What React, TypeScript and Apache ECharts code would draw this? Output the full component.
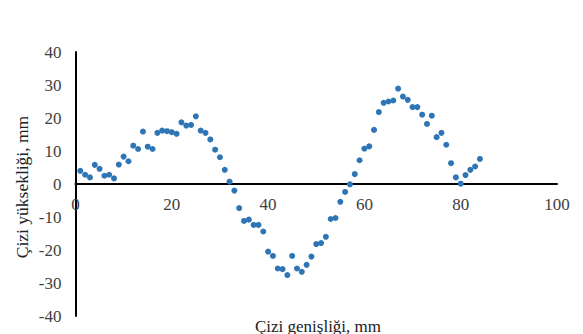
import React, { useEffect, useRef } from "react";
import * as echarts from "echarts";

const xValues: number[] = [
  1, 2, 3, 4, 5, 6, 7, 8, 9, 10, 11, 12, 13, 14, 15, 16, 17, 18, 19, 20,
  21, 22, 23, 24, 25, 26, 27, 28, 29, 30, 31, 32, 33, 34, 35, 36, 37, 38, 39, 40,
  41, 42, 43, 44, 45, 46, 47, 48, 49, 50, 51, 52, 53, 54, 55, 56, 57, 58, 59, 60,
  61, 62, 63, 64, 65, 66, 67, 68, 69, 70, 71, 72, 73, 74, 75, 76, 77, 78, 79, 80,
  81, 82, 83, 84,
];

const yValues: number[] = [
  4.0, 2.8, 2.0, 5.8, 4.6, 2.5, 2.8, 1.7, 5.9, 8.3,
  6.9, 11.6, 10.6, 15.9, 11.3, 10.6, 15.5, 16.2, 16.0, 15.7,
  15.2, 18.7, 17.7, 17.9, 20.5, 16.2, 15.5, 13.5, 10.4, 8.1,
  4.3, 0.7, -2.0, -7.3, -11.2, -10.8, -12.4, -12.4, -14.4, -20.5,
  -21.8, -25.6, -25.8, -27.6, -21.8, -25.6, -26.6, -24.5, -22.0, -18.2,
  -17.9, -16.0, -10.6, -10.3, -5.4, -2.4, -0.1, 3.0, 7.2, 10.7,
  11.4, 16.4, 21.8, 24.6, 25.0, 25.3, 28.9, 26.5, 25.5, 23.3,
  23.3, 21.0, 18.2, 20.7, 14.2, 15.5, 11.9, 6.3, 2.0, 0.1,
  2.7, 4.3, 5.3, 7.6,
];

const xTitle = "Çizi genişliği, mm";
const yTitle = "Çizi yüksekliği, mm";

export default function App() {
  const ref = useRef<HTMLDivElement>(null);
  useEffect(() => {
    if (!ref.current) return;
    const chart = echarts.init(ref.current, null, { renderer: "svg" });
    const font = "'Liberation Serif', 'Times New Roman', serif";
    chart.setOption({
      animation: false,
      backgroundColor: "#ffffff",
      grid: { left: 75.5, right: 26, top: 52, bottom: 18, containLabel: false },
      xAxis: {
        type: "value",
        min: 0,
        max: 100,
        interval: 20,
        position: "bottom",
        offset: -132,
        axisLine: { show: true, onZero: false, lineStyle: { color: "#000", width: 2 } },
        axisTick: { show: false },
        splitLine: { show: false },
        axisLabel: { color: "#404040", fontFamily: font, fontSize: 17, margin: 12 },
      },
      yAxis: {
        type: "value",
        min: -40,
        max: 40,
        interval: 10,
        axisLine: { show: true, onZero: false, lineStyle: { color: "#000", width: 2 } },
        axisTick: { show: false },
        splitLine: { show: false },
        axisLabel: { color: "#404040", fontFamily: font, fontSize: 17, margin: 14 },
      },
      graphic: [
        {
          type: "text",
          x: 318,
          y: 326,
          style: {
            text: xTitle,
            fill: "#222",
            font: `17px ${font}`,
            textAlign: "center",
            textVerticalAlign: "middle",
          },
        },
        {
          type: "text",
          x: 22,
          y: 187,
          rotation: Math.PI / 2,
          style: {
            text: yTitle,
            fill: "#222",
            font: `17.5px ${font}`,
            textAlign: "center",
            textVerticalAlign: "middle",
          },
        },
      ],
      series: [
        {
          type: "scatter",
          symbol: "circle",
          symbolSize: 6,
          itemStyle: { color: "#2e75b6", opacity: 1 },
          data: xValues.map((x, i) => [x, yValues[i]]),
        },
      ],
    });
    return () => chart.dispose();
  }, []);
  return <div ref={ref} style={{ width: 583, height: 334, position: "absolute", left: 0, top: 0 }} />;
}
